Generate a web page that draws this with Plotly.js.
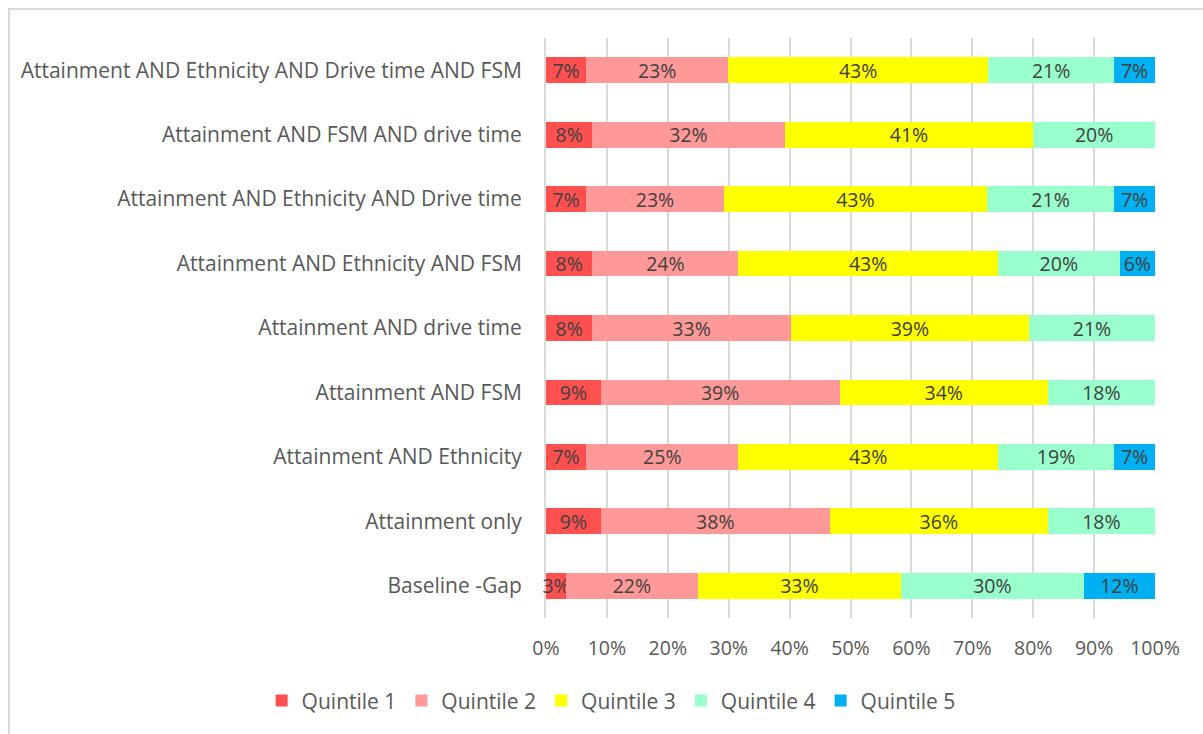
<!DOCTYPE html>
<html>
<head>
<meta charset="utf-8">
<script src="https://cdn.plot.ly/plotly-3.0.1.min.js"></script>
<style>
  html, body { margin: 0; padding: 0; background: #ffffff; }
  #frame { position: absolute; left: 8px; top: 8px; width: 1300px; height: 800px;
           border-top: 2px solid #d9d9d9; border-left: 2px solid #d9d9d9; }
  #chart { position: absolute; left: 0; top: 0; width: 1203px; height: 734px; }
</style>
</head>
<body>
<div id="frame"></div>
<div id="chart"></div>
<script>
// Categories, bottom to top
const categories = [
  "Baseline -Gap",
  "Attainment only",
  "Attainment AND Ethnicity",
  "Attainment AND FSM",
  "Attainment AND drive time",
  "Attainment AND Ethnicity AND FSM",
  "Attainment AND Ethnicity AND Drive time",
  "Attainment AND FSM AND drive time",
  "Attainment AND Ethnicity AND Drive time AND FSM"
];

// Shares (%) per quintile, same order as categories
const quintile1 = [3.3, 9.0, 6.6, 9.0, 7.6, 7.6, 6.6, 7.6, 6.6];
const quintile2 = [21.6, 37.6, 25.0, 39.2, 32.6, 24.0, 22.6, 31.6, 23.3];
const quintile3 = [33.4, 35.8, 42.6, 34.2, 39.1, 42.6, 43.2, 40.8, 42.7];
const quintile4 = [30.0, 17.6, 19.1, 17.6, 20.7, 20.0, 20.9, 20.0, 20.7];
const quintile5 = [11.7, 0, 6.7, 0, 0, 5.8, 6.7, 0, 6.7];

const seriesNames = ["Quintile 1", "Quintile 2", "Quintile 3", "Quintile 4", "Quintile 5"];
const seriesValues = [quintile1, quintile2, quintile3, quintile4, quintile5];
const seriesColors = ["#FF5050", "#FF9999", "#FFFF00", "#99FFCC", "#00B0F0"];

const xTickVals = [0, 0.1, 0.2, 0.3, 0.4, 0.5, 0.6, 0.7, 0.8, 0.9, 1.0];
const xTickText = ["0%", "10%", "20%", "30%", "40%", "50%", "60%", "70%", "80%", "90%", "100%"];

const FONT = "'Open Sans', 'Noto Sans', sans-serif";
const W = 1203, H = 734;

const traces = seriesNames.map((name, i) => ({
  type: "bar",
  orientation: "h",
  name: name,
  y: categories,
  x: seriesValues[i].map(v => v / 100),
  text: seriesValues[i].map(v => v > 0 ? Math.round(v) + "%" : ""),
  texttemplate: "%{text}",
  textposition: "inside",
  insidetextanchor: "middle",
  constraintext: "none",
  textangle: 0,
  cliponaxis: false,
  textfont: { family: FONT, size: 19.5, color: "#404040" },
  marker: { color: seriesColors[i], line: { width: 0 } },
  hoverinfo: "name+x"
}));

const layout = {
  width: W,
  height: H,
  barmode: "stack",
  bargap: 0.6,
  paper_bgcolor: "rgba(0,0,0,0)",
  plot_bgcolor: "rgba(0,0,0,0)",
  margin: { l: 0, r: 0, t: 38, b: 116, pad: 0, autoexpand: false },
  font: { family: FONT, size: 19, color: "#595959" },
  xaxis: {
    domain: [546 / W, 1155 / W],
    range: [0, 1],
    tickmode: "array",
    tickvals: xTickVals,
    ticktext: xTickText,
    showgrid: true,
    gridcolor: "#d9d9d9",
    gridwidth: 2,
    zeroline: false,
    showline: false,
    ticks: "outside",
    ticklen: 13,
    tickcolor: "rgba(0,0,0,0)",
    tickfont: { family: FONT, size: 19.5, color: "#595959" },
    layer: "below traces",
    fixedrange: true
  },
  yaxis: {
    type: "category",
    categoryorder: "array",
    categoryarray: categories,
    range: [-0.5, categories.length - 0.5],
    showgrid: false,
    zeroline: false,
    showline: true,
    linecolor: "#d9d9d9",
    linewidth: 2,
    ticks: "outside",
    ticklen: 18,
    tickcolor: "rgba(0,0,0,0)",
    tickfont: { family: FONT, size: 21, color: "#595959" },
    layer: "below traces",
    fixedrange: true
  },
  showlegend: true,
  legend: {
    orientation: "h",
    x: 0.508,
    xanchor: "center",
    y: -0.143,
    yanchor: "middle",
    traceorder: "normal",
    itemwidth: 30,
    font: { family: FONT, size: 21, color: "#595959" },
    bgcolor: "rgba(0,0,0,0)"
  }
};

Plotly.newPlot("chart", traces, layout, { displayModeBar: false });
</script>
</body>
</html>
